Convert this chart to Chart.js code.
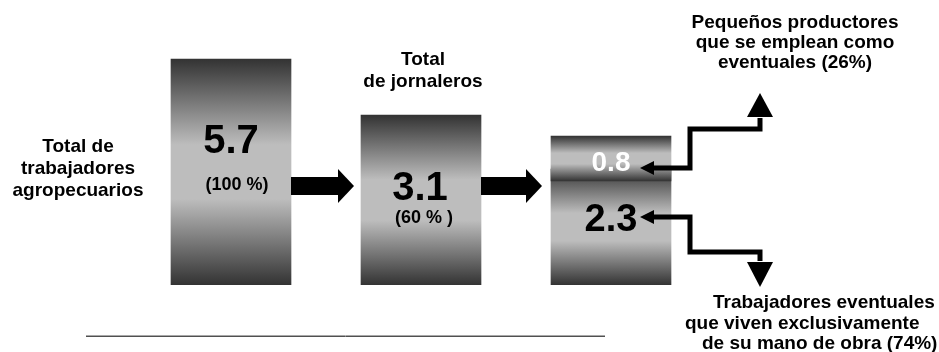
<!DOCTYPE html>
<html>
<head>
<meta charset="utf-8">
<script src="https://cdn.jsdelivr.net/npm/chart.js@4.4.1/dist/chart.umd.min.js"></script>
<style>
html, body { margin: 0; padding: 0; background: #fff; }
#grafica { display: block; }
</style>
</head>
<body>
<canvas id="grafica" width="939" height="352"></canvas>
<script>
/*
    ==========================
      DATOS DEL DIAGRAMA
    ==========================
*/
let categorias = ['Total de trabajadores agropecuarios', 'Total de jornaleros', 'Jornaleros eventuales'];
let millones = ['5.7', '3.1', '2.3'];
let porcentajes = ['(100 %)', '(60 % )', ''];
let altoCaja = [226, 170, 116];            // alto de cada caja
let cajaProductores = [null, null, [104, 149]];
let productores = '0.8';

let tituloTrabajadores = ['Total de', 'trabajadores', 'agropecuarios'];
let tituloJornaleros = ['Total', 'de jornaleros'];
let tituloProductores = ['Pequeños productores', 'que se emplean como', 'eventuales (26%)'];
let tituloEventuales = ['Trabajadores eventuales', 'que viven exclusivamente', 'de su mano de obra (74%)'];

let fuente = '"Liberation Sans", Arial, sans-serif';

// degradado oscuro - claro - oscuro para cada caja
function fondoCaja(c) {
    let chart = c.chart;
    if (!chart.chartArea || !Array.isArray(c.raw)) return '#888';
    let y = chart.scales.y;
    let arriba = y.getPixelForValue(c.raw[1]);
    let abajo = y.getPixelForValue(c.raw[0]);
    let g = chart.ctx.createLinearGradient(0, arriba, 0, abajo);
    g.addColorStop(0, '#333333');
    g.addColorStop(0.38, '#bdbdbd');
    g.addColorStop(0.62, '#bdbdbd');
    g.addColorStop(1, '#333333');
    return g;
}

function flechaGorda(ctx, x0, punta, yc) {
    ctx.fillStyle = '#000';
    ctx.fillRect(x0, yc - 9, punta - 16 - x0, 18);
    ctx.beginPath();
    ctx.moveTo(punta - 16, yc - 17);
    ctx.lineTo(punta, yc);
    ctx.lineTo(punta - 16, yc + 17);
    ctx.closePath();
    ctx.fill();
}

function conector(ctx, puntos, cabeza, chica) {
    ctx.strokeStyle = '#000';
    ctx.lineWidth = 5;
    ctx.lineJoin = 'miter';
    ctx.beginPath();
    ctx.moveTo(puntos[0][0], puntos[0][1]);
    for (let i = 1; i < puntos.length; i++) ctx.lineTo(puntos[i][0], puntos[i][1]);
    ctx.stroke();
    ctx.fillStyle = '#000';
    [cabeza, chica].forEach(t => {
        ctx.beginPath();
        ctx.moveTo(t[0][0], t[0][1]);
        ctx.lineTo(t[1][0], t[1][1]);
        ctx.lineTo(t[2][0], t[2][1]);
        ctx.closePath();
        ctx.fill();
    });
}

function lineas(ctx, textos, x, y0, paso) {
    textos.forEach((t, i) => ctx.fillText(t, x, y0 + i * paso));
}

let anotaciones = {
    id: 'anotaciones',
    afterDatasetsDraw(chart) {
        let ctx = chart.ctx;
        let cajas = chart.getDatasetMeta(1).data;
        ctx.save();

        // flechas entre cajas
        flechaGorda(ctx, cajas[0].x + cajas[0].width / 2, cajas[1].x - cajas[1].width / 2 - 7, 186);
        flechaGorda(ctx, cajas[1].x + cajas[1].width / 2, cajas[2].x - cajas[2].width / 2 - 9, 186);

        // conectores de la derecha
        conector(ctx, [[652, 168], [690, 168], [690, 129], [760, 129], [760, 118]],
            [[747, 117], [773, 117], [760, 93]], [[640, 168], [654, 161], [654, 175]]);
        conector(ctx, [[652, 217], [690, 217], [690, 252], [760, 252], [760, 261]],
            [[747, 262], [773, 262], [760, 287]], [[640, 217], [654, 210], [654, 224]]);

        // textos
        ctx.fillStyle = '#000';
        ctx.textAlign = 'center';
        ctx.textBaseline = 'alphabetic';
        ctx.font = 'bold 19px ' + fuente;
        lineas(ctx, tituloTrabajadores, 78, 152, 22);
        lineas(ctx, tituloJornaleros, 423, 65, 22);
        lineas(ctx, tituloProductores, 795, 28, 20);

        ctx.font = 'bold 18px ' + fuente;
        ctx.fillText(porcentajes[0], cajas[0].x + 6, 190);
        ctx.fillText(porcentajes[1], cajas[1].x + 3, 223);

        ctx.font = 'bold 40px ' + fuente;
        ctx.fillText(millones[0], cajas[0].x, 153);
        ctx.fillText(millones[1], cajas[1].x - 1, 200);
        ctx.font = 'bold 38px ' + fuente;
        ctx.fillText(millones[2], cajas[2].x, 231);

        ctx.fillStyle = '#fff';
        ctx.font = 'bold 28px ' + fuente;
        ctx.fillText(productores, cajas[2].x, 171);

        ctx.fillStyle = '#000';
        ctx.textAlign = 'left';
        ctx.font = 'bold 19px ' + fuente;
        ctx.fillText(tituloEventuales[0], 713, 308);
        ctx.fillText(tituloEventuales[1], 685, 329);
        ctx.fillText(tituloEventuales[2], 702, 349);

        // línea inferior
        ctx.lineWidth = 1;
        ctx.strokeStyle = '#a8a8a8';
        ctx.beginPath(); ctx.moveTo(86, 335.5); ctx.lineTo(605, 335.5); ctx.stroke();
        ctx.strokeStyle = '#505050';
        ctx.beginPath(); ctx.moveTo(86, 336.5); ctx.lineTo(605, 336.5); ctx.stroke();

        ctx.restore();
    }
};

let ctxGrafica = document.getElementById('grafica');

let miGrafica = new Chart(ctxGrafica, {
    type: 'bar',
    data: {
        labels: categorias,
        datasets: [
            {
                label: 'Pequeños productores',
                data: cajaProductores,
                grouped: false,
                order: 0,
                barThickness: 120,
                backgroundColor: fondoCaja,
            },
            {
                label: 'Trabajadores',
                data: altoCaja.map(a => [0, a]),
                grouped: false,
                order: 1,
                barThickness: 120,
                backgroundColor: fondoCaja,
            },
        ]
    },
    options: {
        responsive: false,
        animation: false,
        devicePixelRatio: 1,
        layout: {
            padding: { left: 136, right: 233, top: 0, bottom: 67 }
        },
        scales: {
            x: { display: false },
            y: { display: false, min: 0, max: 285 }
        },
        plugins: {
            legend: { display: false },
            tooltip: { enabled: false }
        }
    },
    plugins: [anotaciones]
});
miGrafica.update();
</script>
</body>
</html>
